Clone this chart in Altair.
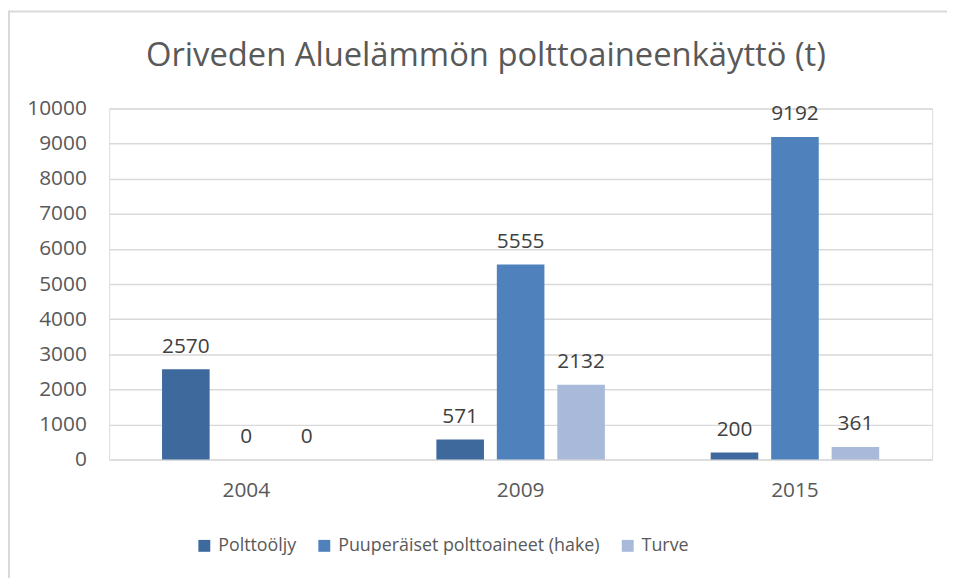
import altair as alt
import pandas as pd

years = ["2004", "2009", "2015"]
series = ["Polttoöljy", "Puuperäiset polttoaineet (hake)", "Turve"]
polttooljy = [2570, 571, 200]
puuperaiset = [0, 5555, 9192]
turve = [0, 2132, 361]
colors = ["#3E699C", "#4F81BD", "#A9B9D9"]
y_ticks = [0, 1000, 2000, 3000, 4000, 5000, 6000, 7000, 8000, 9000, 10000]
title_text = "Oriveden Aluelämmön polttoaineenkäyttö (t)"

rows = []
for s, vals in zip(series, [polttooljy, puuperaiset, turve]):
    for yr, v in zip(years, vals):
        rows.append({"Vuosi": yr, "Sarja": s, "Arvo": v})
df = pd.DataFrame(rows)

FONT = "Open Sans"
W, H = 830, 354

x_enc = alt.X(
    "Vuosi:N", sort=years,
    scale=alt.Scale(paddingInner=0, paddingOuter=0),
    axis=alt.Axis(title=None, labelAngle=0, domain=False, ticks=False, grid=False,
                  labelPadding=20, labelFontSize=21, labelColor="#595959", labelFont=FONT),
)
xo_enc = alt.XOffset("Sarja:N", sort=series,
                     scale=alt.Scale(paddingInner=0.213, paddingOuter=0.875))
y_enc = alt.Y(
    "Arvo:Q",
    scale=alt.Scale(domain=[0, 10000], nice=False),
    axis=alt.Axis(title=None, values=y_ticks, format="d", domain=False, ticks=False,
                  labelOverlap=False,
                  labelPadding=23, labelFontSize=21, labelColor="#595959", labelFont=FONT,
                  gridColor="#D9D9D9", gridWidth=1.5),
)

base = alt.Chart(df).encode(x=x_enc, xOffset=xo_enc, y=y_enc)

bars = base.mark_bar().encode(
    color=alt.Color(
        "Sarja:N", sort=series,
        scale=alt.Scale(domain=series, range=colors),
        legend=alt.Legend(
            title=None, orient="none", direction="horizontal",
            legendX=87, legendY=432,
            symbolType="square", symbolSize=144, symbolStrokeWidth=0,
            labelFontSize=18, labelFont=FONT, labelColor="#595959",
            labelOffset=5, columnPadding=19, labelLimit=0,
        ),
    ),
)

labels = base.mark_text(baseline="alphabetic", dy=-17, fontSize=21, font=FONT,
                        color="#404040").encode(
    text=alt.Text("Arvo:Q"),
)

frame_df = pd.DataFrame({"k": [0]})
frame_left = alt.Chart(frame_df).mark_rule(color="#D9D9D9", strokeWidth=2).encode(
    x=alt.value(-101), y=alt.value(-98), y2=alt.value(480))
frame_top = alt.Chart(frame_df).mark_rule(color="#D9D9D9", strokeWidth=2).encode(
    x=alt.value(-102), x2=alt.value(870), y=alt.value(-98))
title_mark = alt.Chart(frame_df).mark_text(
    text=title_text, fontSize=33, font=FONT, color="#595959",
    align="center", baseline="alphabetic",
).encode(x=alt.value(380), y=alt.value(-43))

chart = alt.layer(frame_left, frame_top, title_mark, bars, labels).properties(
    width=W, height=H,
    autosize=alt.AutoSizeParams(type="none"),
    padding={"left": 102, "top": 99, "right": 15, "bottom": 117},
).configure_view(stroke=None).configure(background="white")

chart.save("out.html", embed_options={"renderer": "svg", "actions": False})
